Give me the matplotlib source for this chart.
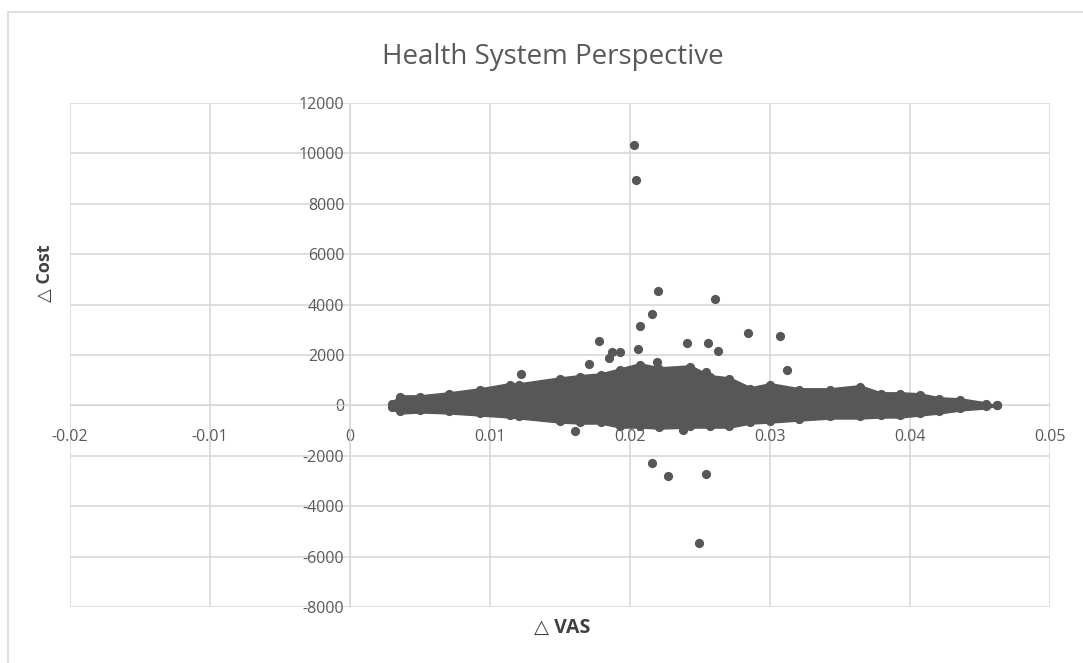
import matplotlib.pyplot as plt
from matplotlib.patches import Rectangle

# outlying simulations (delta VAS, delta cost)
out_x = [0.0203, 0.0204, 0.0220, 0.0261, 0.0216, 0.0207, 0.0178, 0.0241, 0.0206, 0.0187, 0.0193,
         0.0185, 0.0171, 0.0219, 0.0122, 0.0284, 0.0307, 0.0256, 0.0263, 0.0312, 0.0254,
         0.0161, 0.0238, 0.0216, 0.0227, 0.0254, 0.0249]
out_y = [10320, 8960, 4540, 4220, 3620, 3150, 2550, 2470, 2230, 2110, 2110,
         1870, 1630, 1710, 1230, 2870, 2750, 2470, 2150, 1390, 1310,
         -1000, -960, -2270, -2790, -2710, -5460]

# envelope of the dense cloud of simulations (outer edge of the dots)
blob_x = [0.0030, 0.0036, 0.0050, 0.0071, 0.0093, 0.0114, 0.0121, 0.0150, 0.0164, 0.0179,
          0.0193, 0.0207, 0.0221, 0.0243, 0.0257, 0.0271, 0.0286, 0.0300, 0.0321, 0.0343,
          0.0364, 0.0379, 0.0393, 0.0407, 0.0421, 0.0436, 0.0454, 0.0462]
blob_hi = [150, 400, 400, 520, 680, 880, 880, 1110, 1200, 1270,
           1470, 1670, 1510, 1590, 1200, 1110, 720, 880, 680, 680,
           800, 520, 520, 480, 320, 280, 120, 0]
blob_lo = [-150, -320, -280, -320, -400, -480, -520, -680, -720, -720,
           -880, -880, -920, -880, -880, -880, -720, -680, -600, -520,
           -520, -480, -480, -400, -320, -200, -120, 0]

x_ticks = [-0.02, -0.01, 0, 0.01, 0.02, 0.03, 0.04, 0.05]
y_ticks = list(range(-8000, 12001, 2000))

grid_c = '#d9d9d9'; txt_c = '#595959'; dot_c = '#575757'
fam = ['Open Sans', 'DejaVu Sans']
r = 80  # pull edge dots slightly inside the envelope

fig = plt.figure(figsize=(10.83, 6.63), dpi=100)
fig.patches.append(Rectangle((8/1083, -0.1), 1.2, (663-12)/663+0.1, transform=fig.transFigure,
                             fill=False, edgecolor=grid_c, lw=1.2))
ax = fig.add_axes([70/1083, 56/663, 980/1083, 504/663])

# dense core: filled band, edged with dots so the outline looks like the scatter
ax.fill_between(blob_x, blob_lo, blob_hi, color=dot_c, lw=1, edgecolor=dot_c, zorder=3)
hi_in = [max(h - r, 0) for h in blob_hi]
lo_in = [min(l + r, 0) for l in blob_lo]
ax.scatter(blob_x, hi_in, s=44, color=dot_c, lw=0, zorder=3)
ax.scatter(blob_x, lo_in, s=44, color=dot_c, lw=0, zorder=3)
ax.scatter(out_x, out_y, s=44, color=dot_c, lw=0, zorder=4)

ax.set_xlim(-0.02, 0.05); ax.set_ylim(-8000, 12000)
ax.set_xticks(x_ticks); ax.set_yticks(y_ticks)
ax.set_xticklabels(['-0.02', '-0.01', '0', '0.01', '0.02', '0.03', '0.04', '0.05'])
ax.set_yticklabels([str(v) for v in y_ticks])
ax.grid(True, color=grid_c, lw=1.2, zorder=0)
ax.set_axisbelow(True)
for s in ['top', 'right']:
    ax.spines[s].set_visible(False)
ax.spines['left'].set_position(('data', 0)); ax.spines['bottom'].set_position(('data', 0))
ax.spines['left'].set_color(grid_c); ax.spines['bottom'].set_color(grid_c)
ax.tick_params(axis='x', length=0, pad=17, labelsize=11.5, labelcolor=txt_c)
ax.tick_params(axis='y', length=0, pad=4, labelsize=11.5, labelcolor=txt_c)
for lab in ax.get_xticklabels() + ax.get_yticklabels():
    lab.set_family(fam)

fig.text(553/1083, 1-57/663, 'Health System Perspective', ha='center', va='center',
         fontsize=20, color=txt_c, family=fam)
fig.text(45/1083, 1-273/663, '△ Cost', rotation=90, ha='center', va='center',
         fontsize=13, weight='bold', color='#404040', family=fam)
fig.text(562/1083, 1-628/663, '△ VAS', ha='center', va='center',
         fontsize=14, weight='bold', color='#404040', family=fam)

fig.savefig('out.png', dpi=100)
